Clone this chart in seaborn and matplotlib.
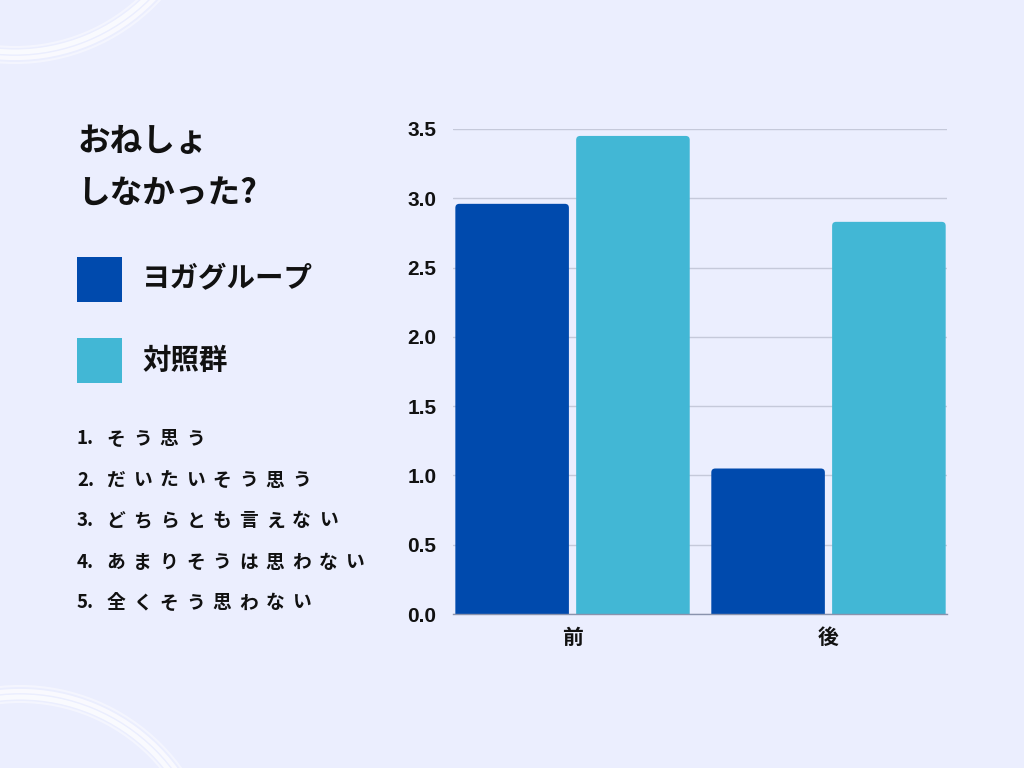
import matplotlib
matplotlib.use("Agg")
import matplotlib.pyplot as plt
import seaborn as sns
import pandas as pd
from matplotlib.patches import FancyBboxPatch, Arc, Rectangle

# ---- data ----
categories = ["前", "後"]
groups = ["ヨガグループ", "対照群"]
yoga_values = [2.96, 1.05]
control_values = [3.45, 2.83]
y_ticks = [0.0, 0.5, 1.0, 1.5, 2.0, 2.5, 3.0, 3.5]
title_lines = ["おねしょ", "しなかった?"]
scale_items = ["そう思う", "だいたいそう思う", "どちらとも言えない",
               "あまりそうは思わない", "全くそう思わない"]

colors = ["#004AAD", "#42B7D5"]
bg = "#EBEEFE"

sns.set_theme(style="white")
plt.rcParams["font.family"] = ["Noto Sans CJK JP", "DejaVu Sans"]

df = pd.DataFrame({
    "time": categories * 2,
    "group": [groups[0]] * 2 + [groups[1]] * 2,
    "value": yoga_values + control_values,
})

W, H = 1024, 768
fig = plt.figure(figsize=(W / 100, H / 100), dpi=100, facecolor=bg)

# background decoration axis (pixel coords)
bgax = fig.add_axes([0, 0, 1, 1], zorder=-1)
bgax.set_xlim(0, W)
bgax.set_ylim(H, 0)
bgax.axis("off")
bgax.set_facecolor(bg)
for (cx, cy, r) in [(15, -135, 191), (20, 885, 192)]:
    for dr, lw, a in [(-9, 1.5, 0.45), (-4, 3.5, 0.75), (2, 3.0, 0.7), (7, 1.5, 0.45)]:
        bgax.add_patch(Arc((cx, cy), 2 * (r + dr), 2 * (r + dr), color="white",
                           lw=lw, alpha=a))

ax = fig.add_axes([453 / W, 1 - 614 / H, 494 / W, 485 / H])
ax.set_facecolor("none")
sns.barplot(data=df, x="time", y="value", hue="group", order=categories,
            hue_order=groups, palette=colors, width=0.944, gap=0.06,
            saturation=1, legend=False, ax=ax, errorbar=None)

ax.set_xlim(-0.467, 1.463)
ax.set_ylim(0, 3.5)

# rounded top corners
rx = 4 / 256.0
asp = 256.0 / 138.6
ry = rx * asp
for p in list(ax.patches):
    x, y = p.get_x(), p.get_y()
    w, h = p.get_width(), p.get_height()
    fc = p.get_facecolor()
    p.remove()
    ax.add_patch(FancyBboxPatch((x, y - ry), w, h + ry,
                                boxstyle=f"round,pad=0,rounding_size={rx}",
                                mutation_aspect=asp, facecolor=fc,
                                edgecolor="none", zorder=2, clip_on=True))

ax.set_yticks(y_ticks)
ax.set_yticklabels([f"{v:.1f}" for v in y_ticks], fontsize=15,
                   fontweight="bold", family=["Liberation Sans", "DejaVu Sans"])
ax.yaxis.grid(True, color="#C5C9DA", lw=1.0, zorder=0)
ax.set_axisbelow(True)
ax.tick_params(axis="y", length=0, pad=12, colors="#111111")
ax.tick_params(axis="x", length=0, pad=9, labelsize=15, colors="#111111")
for lbl in ax.get_xticklabels():
    lbl.set_fontweight("bold")
ax.set_xlabel("")
ax.set_ylabel("")
for s in ["left", "right", "top"]:
    ax.spines[s].set_visible(False)
ax.spines["bottom"].set_color("#8A93AD")
ax.spines["bottom"].set_linewidth(1.0)

# ---- left side text ----
def px(x, y):
    return x / W, 1 - y / H

for i, line in enumerate(title_lines):
    fig.text(*px(77, 141 + i * 52), line, fontsize=23.5, fontweight="bold",
             color="#111111", va="center", ha="left")

leg_y = [279.5, 361]
for i, g in enumerate(groups):
    fig.patches.append(Rectangle(px(77, leg_y[i] + 22.5), 45 / W, 45 / H,
                                 transform=fig.transFigure, facecolor=colors[i],
                                 edgecolor="none"))
    fig.text(*px(142, leg_y[i]), g, fontsize=20.5, fontweight="bold",
             color="#111111", va="center", ha="left")

list_y = [439, 480, 521, 562, 603]
step = 26.5
for i, item in enumerate(scale_items):
    fig.text(*px(77, list_y[i]), f"{i + 1}.", fontsize=13.5, fontweight="bold",
             color="#111111", va="center", ha="left")
    for j, ch in enumerate(item):
        fig.text(*px(116 + j * step, list_y[i]), ch, fontsize=13.5,
                 fontweight="bold", color="#111111", va="center", ha="center")

fig.savefig("out.png", dpi=100, facecolor=bg)
